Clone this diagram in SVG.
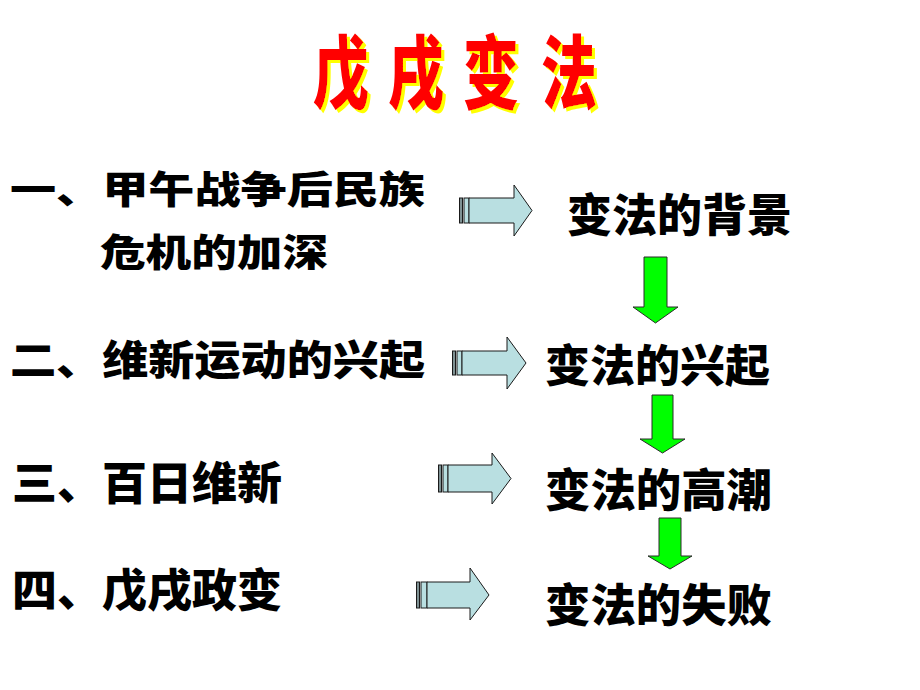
<svg xmlns="http://www.w3.org/2000/svg" width="920" height="690" viewBox="0 0 920 690">
<style>
.t{font-family:"Noto Sans CJK SC","Noto Sans CJK TC",sans-serif;font-weight:900;fill:#000}
.title{font-family:"Noto Sans CJK SC","Noto Sans CJK TC",sans-serif;font-weight:900;font-size:80px;fill:#FF0000}
.ba{fill:#B9DFE1;stroke:#1a1a1a;stroke-width:1}
.bs{fill:#7F9294;stroke:#1a1a1a;stroke-width:1}
.ga{fill:#00FF00;stroke:#2a2a2a;stroke-width:1}
</style>
<defs>
<filter id="sh" x="-10%" y="-10%" width="130%" height="130%">
<feDropShadow dx="3" dy="3" stdDeviation="0" flood-color="#FFFF00" flood-opacity="1"/>
</filter>
</defs>
<rect width="920" height="690" fill="#fff"/>
<g id="title" filter="url(#sh)">
<text class="title" transform="translate(313,102) scale(0.7,1)">戊</text>
<text class="title" transform="translate(388,102) scale(0.7,1)">戌</text>
<text class="title" transform="translate(463,102) scale(0.7,1)">变</text>
<text class="title" transform="translate(541,102) scale(0.7,1)">法</text>
</g>
<g id="left1">
<text class="t" x="10" y="203" font-size="38" textLength="415" lengthAdjust="spacingAndGlyphs">一、甲午战争后民族</text>
<text class="t" x="100" y="266" font-size="38" textLength="228" lengthAdjust="spacingAndGlyphs">危机的加深</text>
</g>
<g id="left2"><text class="t" x="10" y="375" font-size="41" textLength="415" lengthAdjust="spacingAndGlyphs">二、维新运动的兴起</text></g>
<g id="left3"><text class="t" x="12" y="500" font-size="45" textLength="270" lengthAdjust="spacingAndGlyphs">三、百日维新</text></g>
<g id="left4"><text class="t" x="12" y="607" font-size="45" textLength="270" lengthAdjust="spacingAndGlyphs">四、戊戌政变</text></g>
<g id="right1"><text class="t" x="567" y="232" font-size="45" textLength="225" lengthAdjust="spacingAndGlyphs">变法的背景</text></g>
<g id="right2"><text class="t" x="545" y="382" font-size="44" textLength="225" lengthAdjust="spacingAndGlyphs">变法的兴起</text></g>
<g id="right3"><text class="t" x="545" y="507" font-size="45" textLength="227" lengthAdjust="spacingAndGlyphs">变法的高潮</text></g>
<g id="right4"><text class="t" x="545" y="622" font-size="45" textLength="227" lengthAdjust="spacingAndGlyphs">变法的失败</text></g>
<g id="connectors">
<g id="h1">
<rect class="bs" x="459.5" y="198" width="3" height="25"/>
<rect class="ba" x="464" y="198" width="5" height="25"/>
<path class="ba" d="M469,198 H514 V185 L532,210.5 L514,236 V223 H469 Z"/>
</g>
<g id="h2">
<rect class="bs" x="452.5" y="351" width="3" height="24"/>
<rect class="ba" x="457" y="351" width="5" height="24"/>
<path class="ba" d="M462,351 H507 V337 L526,363 L507,389 V375 H462 Z"/>
</g>
<g id="h3">
<rect class="bs" x="438.5" y="465" width="3" height="27"/>
<rect class="ba" x="443" y="465" width="5" height="27"/>
<path class="ba" d="M448,465 H492 V453 L511,478.5 L492,504 V492 H448 Z"/>
</g>
<g id="h4">
<rect class="bs" x="416.5" y="582" width="3" height="26"/>
<rect class="ba" x="421" y="582" width="6" height="26"/>
<path class="ba" d="M427,582 H470 V568 L489,595 L470,620 V608 H427 Z"/>
</g>
<path id="v1" class="ga" d="M644,257 H667 V307 H678 L655.5,323 L633,307 H644 Z"/>
<path id="v2" class="ga" d="M652,395 H673 V439 H685 L662.5,453 L640,439 H652 Z"/>
<path id="v3" class="ga" d="M659,518 H681 V556 H692 L670,569 L648,556 H659 Z"/>
</g>
</svg>
